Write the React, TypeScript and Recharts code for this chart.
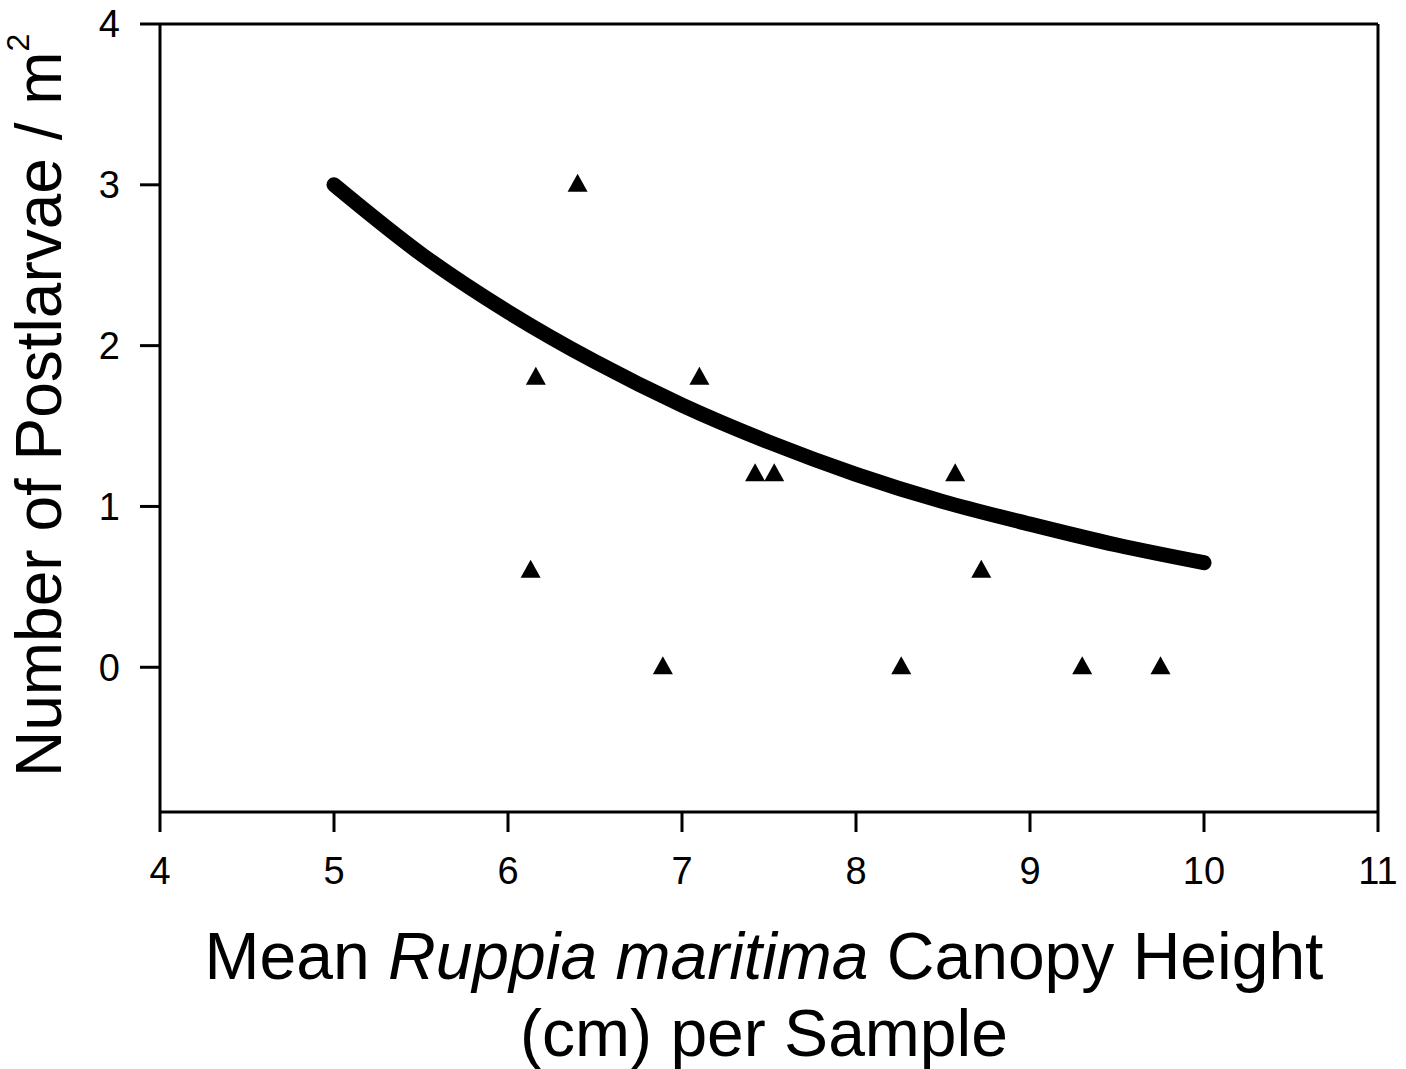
import React from 'react';
import {
  ComposedChart,
  Scatter,
  Line,
  XAxis,
  YAxis,
  ReferenceLine,
} from 'recharts';

const xTicks = [4, 5, 6, 7, 8, 9, 10, 11];
const yTicks = [0, 1, 2, 3, 4];

// observed samples (canopy height cm, postlarvae per m2)
const canopyHeight = [6.4, 6.16, 7.1, 7.42, 7.53, 8.57, 6.13, 8.72, 6.89, 8.26, 9.3, 9.75];
const postlarvae = [3.0, 1.8, 1.8, 1.2, 1.2, 1.2, 0.6, 0.6, 0, 0, 0, 0];

// fitted curve
const fitX = [5, 5.5, 6, 6.5, 7, 7.5, 8, 8.5, 9, 9.5, 10];
const fitY = [3.0, 2.57, 2.21, 1.9, 1.63, 1.4, 1.2, 1.03, 0.89, 0.76, 0.65];

const points = canopyHeight.map((x, i) => ({ x, y: postlarvae[i] }));
const curve = fitX.map((x, i) => ({ x, fit: fitY[i] }));

const FONT = '"Liberation Sans", Arial, Helvetica, sans-serif';

function Triangle(props: any) {
  const { cx, cy } = props;
  if (cx == null || cy == null) return null;
  return (
    <polygon
      points={`${cx},${cy - 11} ${cx - 10},${cy + 7} ${cx + 10},${cy + 7}`}
      fill="#000"
    />
  );
}

function XTitle() {
  const cx = 764;
  return (
    <text textAnchor="middle" fontSize={66} fontFamily={FONT} fill="#000">
      <tspan x={cx} y={979}>
        Mean <tspan fontStyle="italic">Ruppia maritima</tspan> Canopy Height
      </tspan>
      <tspan x={cx} y={1056}>(cm) per Sample</tspan>
    </text>
  );
}

function YTitle() {
  return (
    <text
      transform="translate(61, 777) rotate(-90)"
      textAnchor="start"
      fontSize={64}
      fontFamily={FONT}
      fill="#000"
    >
      Number of Postlarvae / m
      <tspan fontSize={32} dy={-32}>2</tspan>
    </text>
  );
}

export default function App() {
  return (
    <div style={{ position: 'absolute', left: 0, top: 0, background: '#fff', fontFamily: FONT }}>
      <ComposedChart
        width={1406}
        height={1069}
        margin={{ top: 24, right: 28, left: 0, bottom: 0 }}
      >
        <XAxis
          type="number"
          dataKey="x"
          domain={[4, 11]}
          ticks={xTicks}
          allowDataOverflow
          height={257}
          tickSize={20}
          tickMargin={25}
          stroke="#000"
          strokeWidth={3}
          tick={{ fontSize: 38, fill: '#000', fontFamily: FONT }}
          label={<XTitle />}
        />
        <YAxis
          type="number"
          dataKey="y"
          domain={[-0.9, 4]}
          ticks={yTicks}
          allowDataOverflow
          width={160}
          tickSize={20}
          tickMargin={20}
          stroke="#000"
          strokeWidth={3}
          tick={{ fontSize: 38, fill: '#000', fontFamily: FONT }}
          label={<YTitle />}
        />
        <ReferenceLine y={4} stroke="#000" strokeWidth={3} />
        <ReferenceLine x={11} stroke="#000" strokeWidth={3} />
        <Line
          data={curve}
          dataKey="fit"
          type="monotone"
          stroke="#000"
          strokeWidth={15}
          strokeLinecap="round"
          dot={false}
          activeDot={false}
          isAnimationActive={false}
        />
        <Scatter
          data={points}
          dataKey="y"
          shape={<Triangle />}
          isAnimationActive={false}
        />
      </ComposedChart>
    </div>
  );
}
